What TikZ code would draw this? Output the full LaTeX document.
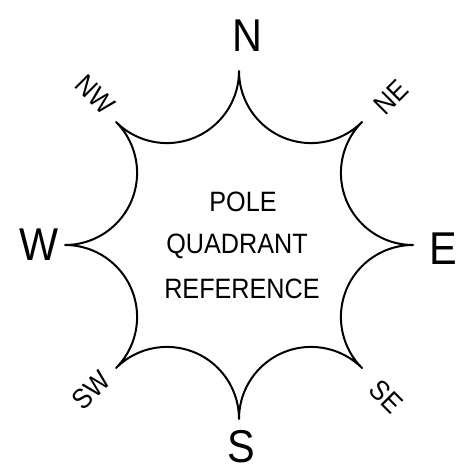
\documentclass[tikz,border=0pt]{standalone}
\usepackage{fontspec}
\setmainfont{Liberation Sans}[FakeStretch=0.9]
\begin{document}
\begin{tikzpicture}[x=1pt,y=1pt,
  starline/.style={line width=2pt, line join=round},
  card/.style={inner sep=0pt, font=\fontsize{46}{46}\selectfont},
  diag/.style={inner sep=0pt, font=\fontsize{28}{28}\selectfont},
  mid/.style={inner sep=0pt, font=\fontsize{28}{28}\selectfont}]
\useasboundingbox (0,0) rectangle (456,472);
\fill[white] (0,0) rectangle (456,472);
\begin{scope}[shift={(239,227)}]
  \coordinate (O) at (0,0);
  \draw[starline] (0:174) \foreach \a in {0,45,...,315}{
    arc[start angle=\a+270, end angle=\a+135, radius=72.07] } -- cycle;
\end{scope}
\node[card] (n) at (247,436) {N};
\node[card] (e) at (443,223) {E};
\node[card] (w) at (39,227) {W};
\node[card] (s) at (241,25) {S};
\node[diag, rotate=-45] (nw) at (95,377) {NW};
\node[diag, rotate=45] (ne) at (391,375) {NE};
\node[diag, rotate=-45] (se) at (386,75) {SE};
\node[diag, rotate=45] (sw) at (91,82) {SW};
\node[mid] (t1) at (243,270) {POLE};
\node[mid] (t2) at (237,226) {QUADRANT};
\node[mid] (t3) at (242,183) {REFERENCE};
\end{tikzpicture}
\end{document}
